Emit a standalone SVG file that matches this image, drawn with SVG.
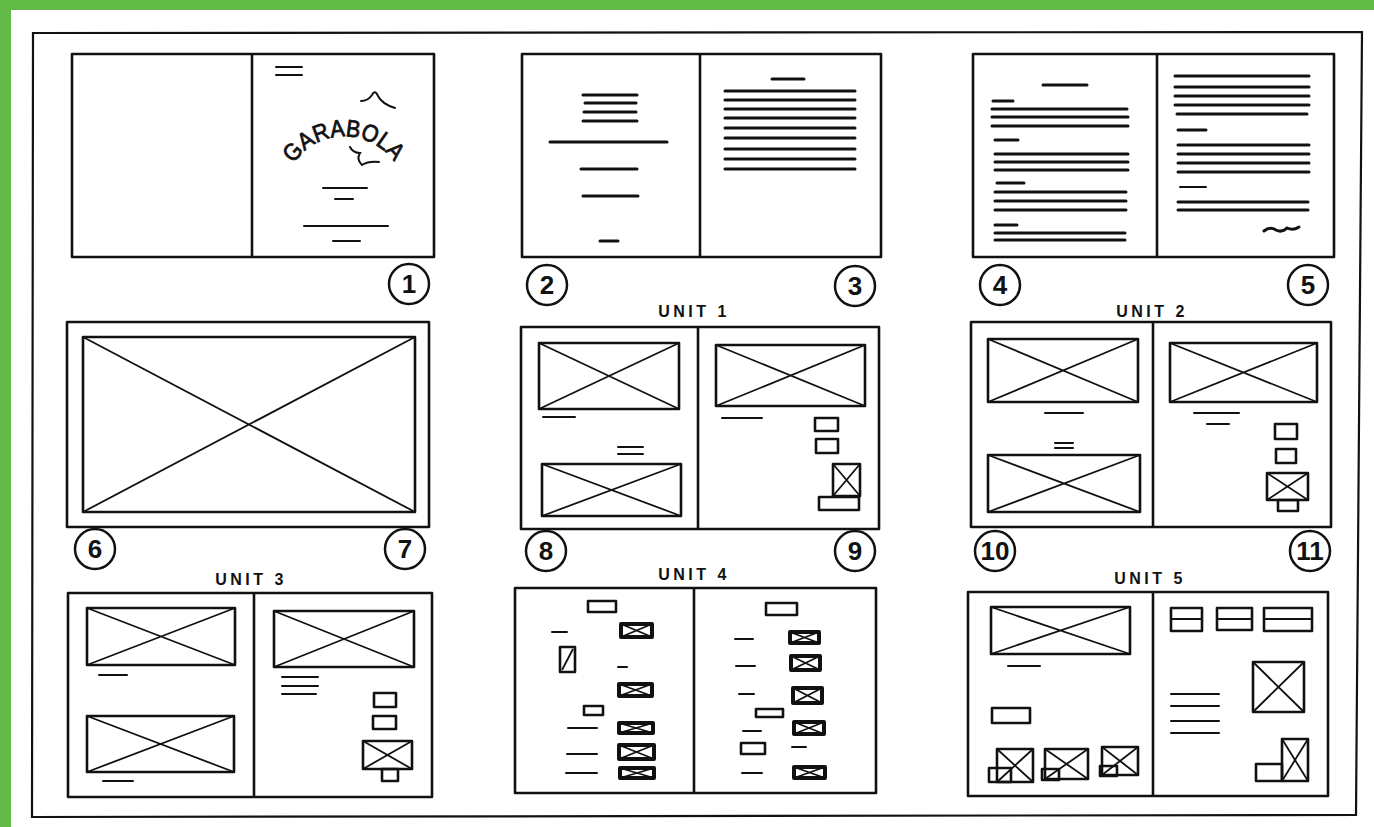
<svg xmlns="http://www.w3.org/2000/svg" width="1374" height="827" viewBox="0 0 1374 827">
<style>
.pg{fill:none;stroke:#111;stroke-width:2.6;stroke-linejoin:round}
.ln{stroke:#111;stroke-width:3;stroke-linecap:round;fill:none}
.th{stroke:#111;stroke-width:2;stroke-linecap:round;fill:none}
.bx{fill:none;stroke:#111;stroke-width:2.6;stroke-linejoin:round}
.dg{fill:none;stroke:#111;stroke-width:1.8}
.hv{fill:none;stroke:#111;stroke-width:4;stroke-linejoin:round}
.cn{fill:none;stroke:#111;stroke-width:2.5}
.num{font-family:"Liberation Sans",Arial,sans-serif;font-weight:bold;font-size:26px;fill:#111;text-anchor:middle}
.unit{font-family:"Liberation Sans",Arial,sans-serif;font-weight:bold;font-size:16px;letter-spacing:3.5px;fill:#111;text-anchor:middle}
</style>
<rect width="1374" height="827" fill="#ffffff"/>
<rect x="0" y="0" width="1374" height="10" fill="#63bb47"/>
<rect x="0" y="0" width="11" height="827" fill="#63bb47"/>
<polygon points="33,33 1362,32 1356,815 32,817" fill="none" stroke="#111" stroke-width="2.2"/>

<!-- Spread 1 -->
<g id="spread-1">
<rect class="pg" x="72" y="54" width="362" height="203"/>
<line class="pg" x1="252" y1="54" x2="252" y2="257"/>
<line class="th" x1="276" y1="67" x2="302" y2="67"/>
<line class="th" x1="276" y1="75" x2="302" y2="75"/>
<path id="arc1" d="M 290 170 A 61 61 0 0 1 398 168" fill="none"/>
<text font-family="Liberation Sans, Arial, sans-serif" font-size="24" fill="#111" stroke="#111" stroke-width="0.8"><textPath href="#arc1" startOffset="50%" text-anchor="middle" textLength="118" lengthAdjust="spacingAndGlyphs">GARABOLA</textPath></text>
<path class="th" d="M 361 101 Q 368 101 372 95 Q 375 89 378 96 Q 382 104 395 108"/>
<path class="th" d="M 350 147 Q 353 153 360 153 Q 356 159 362 165 Q 368 161 379 162"/>
<line class="th" x1="323" y1="188" x2="367" y2="188"/>
<line class="th" x1="335" y1="199" x2="353" y2="199"/>
<line class="th" x1="304" y1="226" x2="388" y2="226"/>
<line class="th" x1="333" y1="241" x2="360" y2="241"/>
<circle class="cn" cx="409" cy="284" r="20"/>
<text class="num" x="409" y="293">1</text>
</g>

<!-- Spread 2-3 -->
<g id="spread-2-3">
<rect class="pg" x="522" y="54" width="359" height="203"/>
<line class="pg" x1="700" y1="54" x2="700" y2="257"/>
<line class="ln" x1="583" y1="95" x2="637" y2="95"/>
<line class="ln" x1="585" y1="103" x2="636" y2="103"/>
<line class="ln" x1="584" y1="112" x2="636" y2="112"/>
<line class="ln" x1="583" y1="121" x2="637" y2="121"/>
<line class="ln" x1="550" y1="142" x2="667" y2="142"/>
<line class="ln" x1="581" y1="169" x2="637" y2="169"/>
<line class="ln" x1="583" y1="196" x2="638" y2="196"/>
<line class="ln" x1="600" y1="241" x2="618" y2="241"/>
<line class="ln" x1="772" y1="79" x2="804" y2="79"/>
<line class="ln" x1="725" y1="91" x2="855" y2="91"/>
<line class="ln" x1="725" y1="100" x2="855" y2="100"/>
<line class="ln" x1="725" y1="109" x2="855" y2="109"/>
<line class="ln" x1="725" y1="118" x2="855" y2="118"/>
<line class="ln" x1="725" y1="128" x2="855" y2="128"/>
<line class="ln" x1="725" y1="138" x2="855" y2="138"/>
<line class="ln" x1="725" y1="149" x2="855" y2="149"/>
<line class="ln" x1="725" y1="159" x2="855" y2="159"/>
<line class="ln" x1="725" y1="169" x2="855" y2="169"/>
<circle class="cn" cx="547" cy="285" r="20"/>
<text class="num" x="547" y="294">2</text>
<circle class="cn" cx="855" cy="286" r="20"/>
<text class="num" x="855" y="295">3</text>
</g>

<!-- Spread 4-5 -->
<g id="spread-4-5">
<rect class="pg" x="973" y="54" width="361" height="203"/>
<line class="pg" x1="1157" y1="54" x2="1157" y2="257"/>
<line class="ln" x1="1043" y1="85" x2="1087" y2="85"/>
<line class="ln" x1="993" y1="101" x2="1013" y2="101"/>
<line class="ln" x1="992" y1="109" x2="1127" y2="109"/>
<line class="ln" x1="992" y1="117" x2="1128" y2="117"/>
<line class="ln" x1="992" y1="126" x2="1128" y2="126"/>
<line class="ln" x1="995" y1="140" x2="1018" y2="140"/>
<line class="ln" x1="995" y1="154" x2="1128" y2="154"/>
<line class="ln" x1="995" y1="162" x2="1128" y2="162"/>
<line class="ln" x1="995" y1="170" x2="1128" y2="170"/>
<line class="ln" x1="997" y1="183" x2="1024" y2="183"/>
<line class="ln" x1="995" y1="192" x2="1126" y2="192"/>
<line class="ln" x1="995" y1="201" x2="1126" y2="201"/>
<line class="ln" x1="995" y1="210" x2="1126" y2="210"/>
<line class="ln" x1="995" y1="225" x2="1017" y2="225"/>
<line class="ln" x1="995" y1="233" x2="1125" y2="233"/>
<line class="ln" x1="995" y1="240" x2="1125" y2="240"/>
<line class="ln" x1="1175" y1="76" x2="1309" y2="76"/>
<line class="ln" x1="1175" y1="87" x2="1309" y2="87"/>
<line class="ln" x1="1175" y1="96" x2="1309" y2="96"/>
<line class="ln" x1="1175" y1="105" x2="1309" y2="105"/>
<line class="ln" x1="1177" y1="114" x2="1307" y2="114"/>
<line class="ln" x1="1178" y1="130" x2="1206" y2="130"/>
<line class="ln" x1="1178" y1="145" x2="1309" y2="145"/>
<line class="ln" x1="1178" y1="154" x2="1309" y2="154"/>
<line class="ln" x1="1178" y1="163" x2="1309" y2="163"/>
<line class="ln" x1="1178" y1="172" x2="1309" y2="172"/>
<line class="th" x1="1180" y1="187" x2="1206" y2="187"/>
<line class="ln" x1="1178" y1="202" x2="1308" y2="202"/>
<line class="ln" x1="1178" y1="210" x2="1308" y2="210"/>
<path class="ln" d="M 1264 231 Q 1270 226 1276 230 Q 1282 233 1287 228 Q 1293 231 1299 227"/>
<circle class="cn" cx="1000" cy="285" r="20"/>
<text class="num" x="1000" y="294">4</text>
<circle class="cn" cx="1308" cy="285" r="20"/>
<text class="num" x="1308" y="294">5</text>
</g>

<!-- Spread 6-7 -->
<g id="spread-6-7">
<rect class="pg" x="67" y="322" width="362" height="205"/>
<rect class="bx" x="83" y="337" width="332" height="175"/>
<path class="dg" d="M 83 337 L 415 512 M 415 337 L 83 512"/>
<circle class="cn" cx="95" cy="549" r="20"/>
<text class="num" x="95" y="558">6</text>
<circle class="cn" cx="405" cy="549" r="20"/>
<text class="num" x="405" y="558">7</text>
</g>

<!-- Spread 8-9 Unit 1 -->
<g id="spread-8-9">
<text class="unit" x="694" y="317">UNIT 1</text>
<rect class="pg" x="521" y="327" width="358" height="202"/>
<line class="pg" x1="698" y1="327" x2="698" y2="529"/>
<rect class="bx" x="539" y="343" width="140" height="66"/>
<path class="dg" d="M 539 343 L 679 409 M 679 343 L 539 409"/>
<line class="th" x1="543" y1="417" x2="575" y2="417"/>
<line class="th" x1="618" y1="447" x2="643" y2="447"/>
<line class="th" x1="618" y1="454" x2="643" y2="454"/>
<rect class="bx" x="542" y="464" width="139" height="52"/>
<path class="dg" d="M 542 464 L 681 516 M 681 464 L 542 516"/>
<rect class="bx" x="716" y="345" width="149" height="61"/>
<path class="dg" d="M 716 345 L 865 406 M 865 345 L 716 406"/>
<line class="th" x1="722" y1="418" x2="762" y2="418"/>
<rect class="bx" x="815" y="418" width="23" height="13"/>
<rect class="bx" x="816" y="439" width="22" height="14"/>
<rect class="bx" x="833" y="464" width="27" height="32"/>
<path class="dg" d="M 833 464 L 860 496 M 860 464 L 833 496"/>
<rect class="bx" x="819" y="497" width="40" height="13"/>
<circle class="cn" cx="546" cy="551" r="20"/>
<text class="num" x="546" y="560">8</text>
<circle class="cn" cx="855" cy="551" r="20"/>
<text class="num" x="855" y="560">9</text>
</g>

<!-- Spread 10-11 Unit 2 -->
<g id="spread-10-11">
<text class="unit" x="1152" y="317">UNIT 2</text>
<rect class="pg" x="971" y="322" width="360" height="205"/>
<line class="pg" x1="1153" y1="322" x2="1153" y2="527"/>
<rect class="bx" x="988" y="339" width="150" height="63"/>
<path class="dg" d="M 988 339 L 1138 402 M 1138 339 L 988 402"/>
<line class="th" x1="1045" y1="413" x2="1083" y2="413"/>
<line class="th" x1="1055" y1="443" x2="1073" y2="443"/>
<line class="th" x1="1055" y1="448" x2="1073" y2="448"/>
<rect class="bx" x="988" y="455" width="152" height="57"/>
<path class="dg" d="M 988 455 L 1140 512 M 1140 455 L 988 512"/>
<rect class="bx" x="1170" y="343" width="147" height="59"/>
<path class="dg" d="M 1170 343 L 1317 402 M 1317 343 L 1170 402"/>
<line class="th" x1="1194" y1="413" x2="1239" y2="413"/>
<line class="th" x1="1207" y1="424" x2="1229" y2="424"/>
<rect class="bx" x="1275" y="424" width="22" height="15"/>
<rect class="bx" x="1276" y="449" width="20" height="14"/>
<rect class="bx" x="1267" y="473" width="41" height="27"/>
<path class="dg" d="M 1267 473 L 1308 500 M 1308 473 L 1267 500"/>
<rect class="bx" x="1278" y="500" width="20" height="11"/>
<circle class="cn" cx="995" cy="551" r="20"/>
<text class="num" x="995" y="560" font-size="22">10</text>
<circle class="cn" cx="1310" cy="551" r="20"/>
<text class="num" x="1310" y="560" font-size="22">11</text>
</g>

<!-- Unit 3 -->
<g id="unit-3">
<text class="unit" x="251" y="585">UNIT 3</text>
<rect class="pg" x="68" y="593" width="364" height="204"/>
<line class="pg" x1="254" y1="593" x2="254" y2="797"/>
<rect class="bx" x="87" y="608" width="148" height="57"/>
<path class="dg" d="M 87 608 L 235 665 M 235 608 L 87 665"/>
<line class="th" x1="99" y1="675" x2="127" y2="675"/>
<rect class="bx" x="87" y="716" width="147" height="56"/>
<path class="dg" d="M 87 716 L 234 772 M 234 716 L 87 772"/>
<line class="th" x1="103" y1="781" x2="133" y2="781"/>
<rect class="bx" x="274" y="611" width="140" height="56"/>
<path class="dg" d="M 274 611 L 414 667 M 414 611 L 274 667"/>
<line class="th" x1="282" y1="677" x2="318" y2="677"/>
<line class="th" x1="282" y1="686" x2="318" y2="686"/>
<line class="th" x1="282" y1="694" x2="316" y2="694"/>
<rect class="bx" x="374" y="693" width="22" height="14"/>
<rect class="bx" x="373" y="716" width="23" height="13"/>
<rect class="bx" x="363" y="741" width="49" height="28"/>
<path class="dg" d="M 363 741 L 412 769 M 412 741 L 363 769"/>
<rect class="bx" x="382" y="769" width="16" height="12"/>
</g>

<!-- Unit 4 -->
<g id="unit-4">
<text class="unit" x="694" y="580">UNIT 4</text>
<rect class="pg" x="515" y="588" width="361" height="205"/>
<line class="pg" x1="694" y1="588" x2="694" y2="793"/>
<rect class="bx" x="588" y="601" width="28" height="11"/>
<line class="th" x1="552" y1="632" x2="567" y2="632"/>
<rect class="hv" x="621" y="624" width="31" height="13"/>
<path class="dg" d="M 621 624 L 652 637 M 652 624 L 621 637"/>
<rect class="bx" x="560" y="647" width="15" height="25"/>
<line class="dg" x1="562" y1="670" x2="573" y2="649"/>
<line class="th" x1="618" y1="667" x2="627" y2="667"/>
<rect class="hv" x="619" y="684" width="33" height="12"/>
<path class="dg" d="M 619 684 L 652 696 M 652 684 L 619 696"/>
<rect class="bx" x="584" y="706" width="19" height="9"/>
<line class="th" x1="568" y1="728" x2="597" y2="728"/>
<rect class="hv" x="619" y="723" width="34" height="10"/>
<path class="dg" d="M 619 723 L 653 733 M 653 723 L 619 733"/>
<line class="th" x1="567" y1="754" x2="597" y2="754"/>
<rect class="hv" x="619" y="745" width="35" height="14"/>
<path class="dg" d="M 619 745 L 654 759 M 654 745 L 619 759"/>
<line class="th" x1="566" y1="773" x2="597" y2="773"/>
<rect class="hv" x="620" y="768" width="34" height="10"/>
<path class="dg" d="M 620 768 L 654 778 M 654 768 L 620 778"/>
<rect class="bx" x="766" y="603" width="31" height="12"/>
<line class="th" x1="735" y1="639" x2="753" y2="639"/>
<rect class="hv" x="790" y="632" width="29" height="11"/>
<path class="dg" d="M 790 632 L 819 643 M 819 632 L 790 643"/>
<line class="th" x1="736" y1="666" x2="755" y2="666"/>
<rect class="hv" x="791" y="656" width="29" height="14"/>
<path class="dg" d="M 791 656 L 820 670 M 820 656 L 791 670"/>
<line class="th" x1="739" y1="694" x2="754" y2="694"/>
<rect class="hv" x="793" y="688" width="29" height="15"/>
<path class="dg" d="M 793 688 L 822 703 M 822 688 L 793 703"/>
<rect class="bx" x="756" y="709" width="27" height="8"/>
<line class="th" x1="743" y1="731" x2="761" y2="731"/>
<rect class="hv" x="794" y="722" width="30" height="12"/>
<path class="dg" d="M 794 722 L 824 734 M 824 722 L 794 734"/>
<rect class="bx" x="741" y="743" width="24" height="11"/>
<line class="th" x1="792" y1="747" x2="806" y2="747"/>
<line class="th" x1="742" y1="773" x2="762" y2="773"/>
<rect class="hv" x="794" y="767" width="31" height="11"/>
<path class="dg" d="M 794 767 L 825 778 M 825 767 L 794 778"/>
</g>

<!-- Unit 5 -->
<g id="unit-5">
<text class="unit" x="1150" y="584">UNIT 5</text>
<rect class="pg" x="968" y="592" width="360" height="204"/>
<line class="pg" x1="1153" y1="592" x2="1153" y2="796"/>
<rect class="bx" x="991" y="607" width="139" height="47"/>
<path class="dg" d="M 991 607 L 1130 654 M 1130 607 L 991 654"/>
<line class="th" x1="1008" y1="666" x2="1040" y2="666"/>
<rect class="bx" x="992" y="708" width="38" height="15"/>
<rect class="bx" x="997" y="749" width="36" height="33"/>
<path class="dg" d="M 997 749 L 1033 782 M 1033 749 L 997 782"/>
<rect class="bx" x="989" y="768" width="22" height="14" fill="#fff"/>
<rect class="bx" x="1045" y="749" width="43" height="30"/>
<path class="dg" d="M 1045 749 L 1088 779 M 1088 749 L 1045 779"/>
<rect class="bx" x="1042" y="769" width="17" height="11" fill="#fff"/>
<rect class="bx" x="1102" y="747" width="36" height="28"/>
<path class="dg" d="M 1102 747 L 1138 775 M 1138 747 L 1102 775"/>
<rect class="bx" x="1100" y="766" width="17" height="10" fill="#fff"/>
<rect class="bx" x="1171" y="608" width="31" height="23"/>
<line class="th" x1="1171" y1="619" x2="1202" y2="619"/>
<rect class="bx" x="1217" y="608" width="35" height="22"/>
<line class="th" x1="1217" y1="619" x2="1252" y2="619"/>
<rect class="bx" x="1264" y="608" width="48" height="23"/>
<line class="th" x1="1264" y1="619" x2="1312" y2="619"/>
<rect class="bx" x="1253" y="662" width="51" height="50"/>
<path class="dg" d="M 1253 662 L 1304 712 M 1304 662 L 1253 712"/>
<line class="th" x1="1171" y1="694" x2="1219" y2="694"/>
<line class="th" x1="1171" y1="706" x2="1219" y2="706"/>
<line class="th" x1="1171" y1="721" x2="1219" y2="721"/>
<line class="th" x1="1171" y1="733" x2="1219" y2="733"/>
<rect class="bx" x="1282" y="739" width="26" height="42"/>
<path class="dg" d="M 1282 739 L 1308 781 M 1308 739 L 1282 781"/>
<rect class="bx" x="1256" y="764" width="26" height="17"/>
</g>
</svg>
